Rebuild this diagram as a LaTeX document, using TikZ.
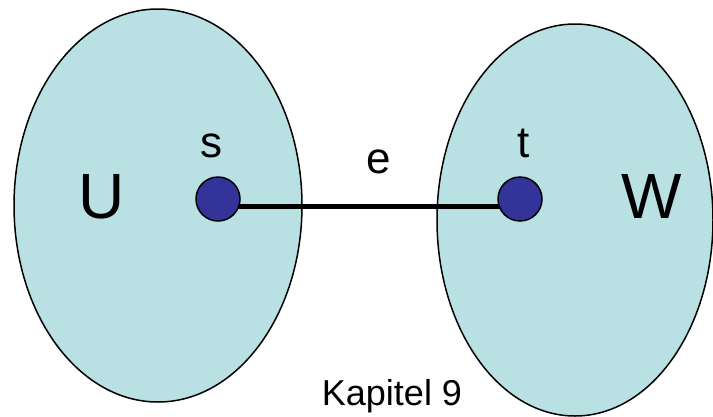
\documentclass[tikz,border=0pt]{standalone}
\usepackage{fontspec}
\setmainfont{Liberation Sans}
\usetikzlibrary{shapes.geometric}
\pgfdeclarelayer{bg}
\pgfdeclarelayer{mid}
\pgfsetlayers{bg,mid,main}
\definecolor{setfill}{RGB}{185,224,227}
\definecolor{vertexfill}{RGB}{51,51,153}
\tikzset{
  setshape/.style={ellipse, draw=black, line width=1.5pt, fill=setfill, inner sep=0pt},
  vertex/.style={circle, draw=black, line width=1.5pt, fill=vertexfill, minimum size=44pt, inner sep=0pt},
  edgeline/.style={line width=5pt, draw=black},
  biglabel/.style={anchor=base, font=\fontsize{64}{64}\selectfont, inner sep=0pt},
  smalllabel/.style={anchor=base, font=\fontsize{44}{44}\selectfont, inner sep=0pt},
  footer/.style={anchor=base, font=\fontsize{36}{36}\selectfont, inner sep=0pt}
}
\begin{document}
\begin{tikzpicture}[x=1pt, y=-1pt]
  \useasboundingbox (0,0) rectangle (713,416);
  \begin{pgfonlayer}{bg}
    \node[setshape, minimum width=288pt, minimum height=393pt] (U) at (158,205.5) {};
    \node[setshape, minimum width=276pt, minimum height=392pt] (W) at (575,220) {};
  \end{pgfonlayer}
  \node[vertex] (s) at (218,199) {};
  \node[vertex] (t) at (520,199) {};
  \begin{pgfonlayer}{mid}
    \draw[edgeline] ([yshift=-7pt]s.center) -- ([yshift=-7pt]t.center);
  \end{pgfonlayer}
  \node[biglabel] (Ulabel) at (102,218) {U};
  \node[biglabel] (Wlabel) at (652,218) {W};
  \node[smalllabel] (slabel) at (211,157) {s};
  \node[smalllabel] (tlabel) at (524,157) {t};
  \node[smalllabel] (elabel) at (379,173) {e};
  \node[footer] (kap) at (392,405) {Kapitel 9};
\end{tikzpicture}
\end{document}
